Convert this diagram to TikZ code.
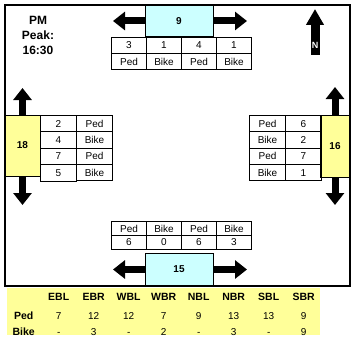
\documentclass[tikz,border=0pt]{standalone}
\usepackage{fontspec}
\setmainfont{Liberation Sans}
\usetikzlibrary{matrix,arrows.meta}

\definecolor{legcyan}{HTML}{CCFFFF}
\definecolor{legyellow}{HTML}{FFFF99}

\tikzset{
  countbox/.style={draw, line width=1pt, inner sep=0pt, outer sep=0pt, font=\bfseries\fontsize{10}{12}\selectfont},
  blockarrow/.style={line width=7pt, -{Triangle[length=12pt,width=18pt]}},
  gridtab/.style={matrix of nodes, nodes in empty cells, ampersand replacement=\&,
    inner sep=0pt, outer sep=0pt, column sep=-1pt, row sep=-1pt},
  hdr/.style={font=\bfseries\fontsize{10.5}{12}\selectfont}
}

\begin{document}
\begin{tikzpicture}[x=1pt, y=-1pt]
    \useasboundingbox (0,0) rectangle (356,337);

    % approach boxes
    \node[countbox, fill=legcyan, minimum width=68pt, minimum height=32pt] (north) at (179,21) {9};
    \node[countbox, fill=legcyan, minimum width=68pt, minimum height=33pt] (south) at (179,269.5) {15};
    \node[countbox, fill=legyellow, minimum width=35pt, minimum height=61pt] (west) at (22.5,145.5) {18};
    \node[countbox, fill=legyellow, minimum width=30pt, minimum height=62pt] (east) at (335,146) {16};

    % crossing arrows
    \draw[blockarrow] (north.west) -- ++(-32,0) coordinate (northW);
    \draw[blockarrow] (north.east) -- ++(34,0) coordinate (northE);
    \draw[blockarrow] (south.west) -- ++(-32,0) coordinate (southW);
    \draw[blockarrow] (south.east) -- ++(34,0) coordinate (southE);
    \draw[blockarrow] (west.north) -- ++(0,-27) coordinate (westN);
    \draw[blockarrow] (west.south) -- ++(0,29) coordinate (westS);
    \draw[blockarrow] (east.north) -- ++(0,-28) coordinate (eastN);
    \draw[blockarrow] (east.south) -- ++(0,28) coordinate (eastS);

    % ped / bike counts
    \matrix[gridtab, anchor=north west,
            nodes={draw, line width=1pt, minimum width=35pt, minimum height=16pt, inner sep=0pt, outer sep=0pt, font=\fontsize{10}{12}\selectfont}]
            (northtab) at (111,37) {
      3 \& 1 \& 4 \& 1 \\
      Ped \& Bike \& Ped \& Bike \\
    };
    \matrix[gridtab, anchor=north west,
            nodes={draw, line width=1pt, minimum width=35pt, minimum height=14pt, inner sep=0pt, outer sep=0pt, font=\fontsize{10}{12}\selectfont}]
            (southtab) at (111,221) {
      Ped \& Bike \& Ped \& Bike \\
      6 \& 0 \& 6 \& 3 \\
    };
    \matrix[gridtab, anchor=north west,
            nodes={draw, line width=1pt, minimum width=36pt, minimum height=16.25pt, inner sep=0pt, outer sep=0pt, font=\fontsize{10}{12}\selectfont}]
            (westtab) at (40,115) {
      2 \& Ped \\
      4 \& Bike \\
      7 \& Ped \\
      5 \& Bike \\
    };
    \matrix[gridtab, anchor=north west,
            nodes={draw, line width=1pt, minimum width=36pt, minimum height=16.25pt, inner sep=0pt, outer sep=0pt, font=\fontsize{10}{12}\selectfont}]
            (easttab) at (249,115) {
      Ped \& 6 \\
      Bike \& 2 \\
      Ped \& 7 \\
      Bike \& 1 \\
    };

    % frame
    \draw[line width=2pt] (5,5) rectangle (350,286);

    \node[align=center, font=\bfseries\fontsize{12}{15}\selectfont] (peak) at (38,35) {PM\\Peak:\\16:30};

    % north arrow
    \coordinate (nbase) at (315,55);
    \draw[line width=9pt, -{Triangle[length=16pt,width=17pt]}] (nbase) -- ++(0,-46) coordinate (ntip);
    \node[text=white, inner sep=0pt, font=\bfseries\fontsize{9}{10}\selectfont] (nlabel) at (315,45) {N};

    % movement totals
    \fill[legyellow] (7,288) rectangle (320,335);
    \matrix[matrix of nodes,
            nodes in empty cells,
            ampersand replacement=\&,
            inner sep=0pt, anchor=north west,
            nodes={minimum width=35pt, minimum height=15.3pt, inner sep=0pt, font=\fontsize{10}{12}\selectfont},
            column sep=0pt,
            row sep=0pt] (totals) at (6,289) {
      {} \& |[hdr]| EBL \& |[hdr]| EBR \& |[hdr]| WBL \& |[hdr]| WBR \& |[hdr]| NBL \& |[hdr]| NBR \& |[hdr]| SBL \& |[hdr]| SBR \\
      |[hdr]| Ped \& 7 \& 12 \& 12 \& 7 \& 9 \& 13 \& 13 \& 9 \\
      |[hdr]| Bike \& - \& 3 \& - \& 2 \& - \& 3 \& - \& 9 \\
    };
\end{tikzpicture}
\end{document}
